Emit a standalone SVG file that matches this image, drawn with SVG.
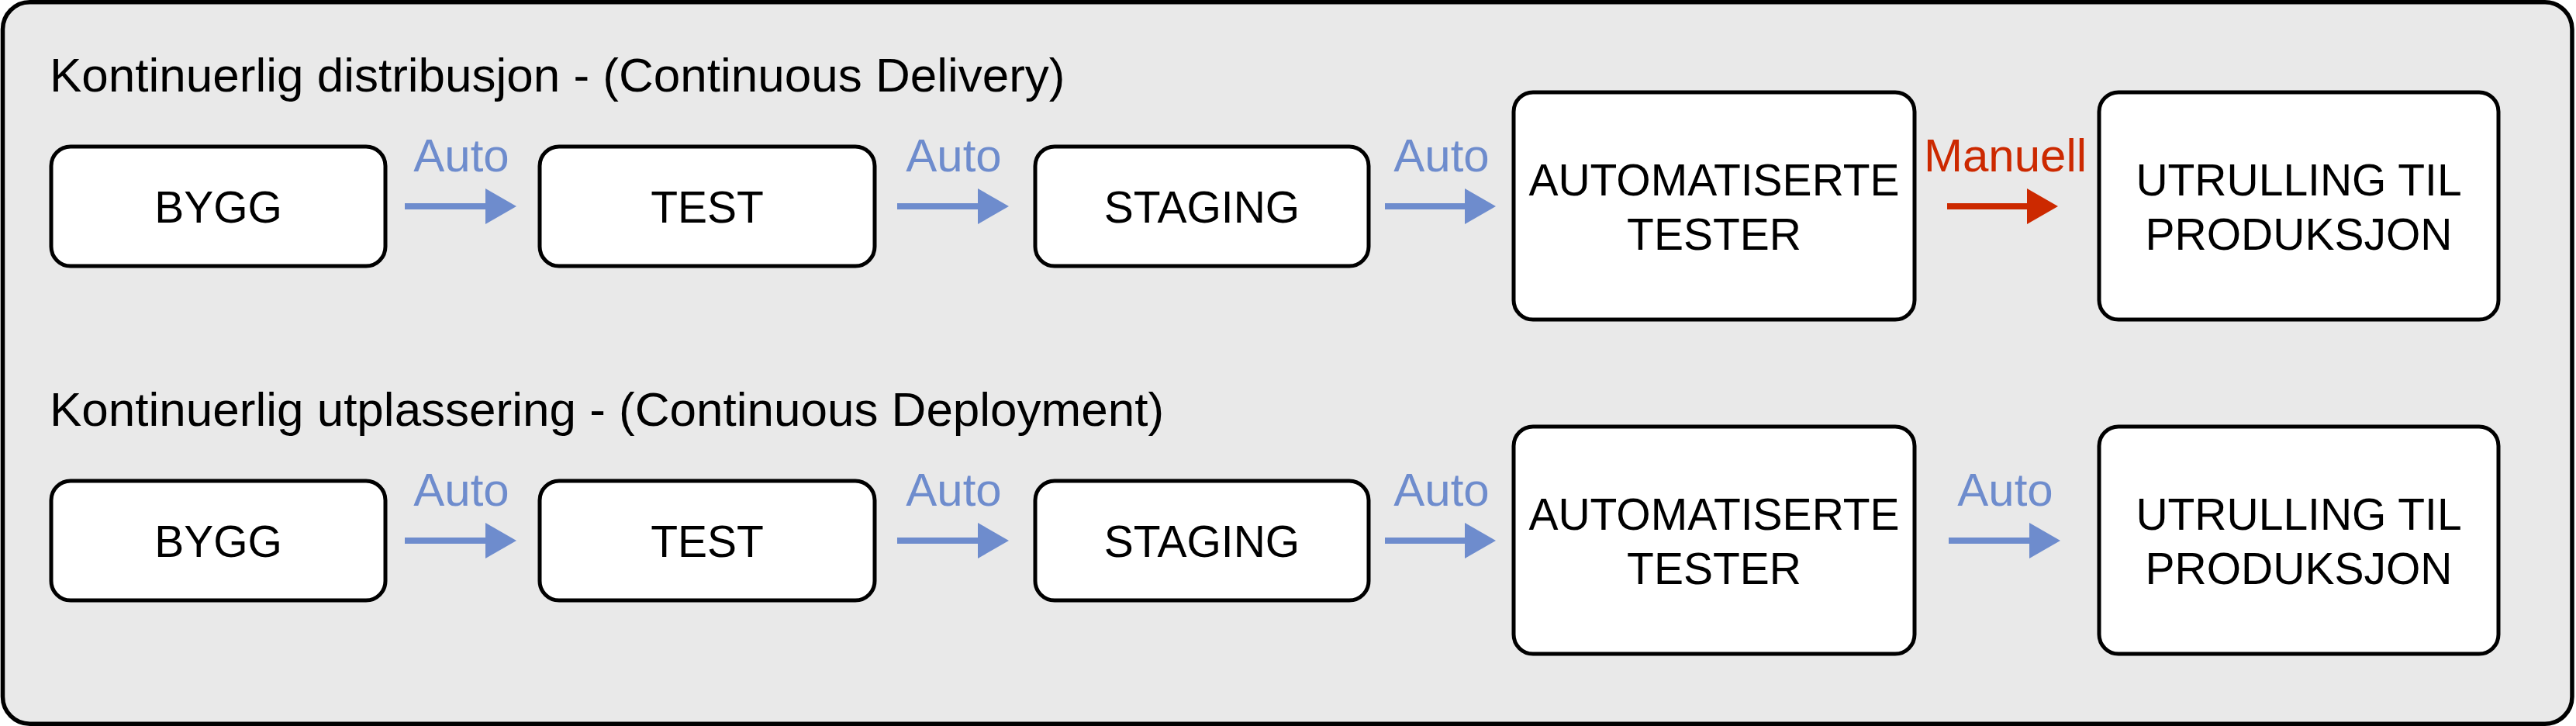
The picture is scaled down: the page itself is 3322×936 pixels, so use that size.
<svg xmlns="http://www.w3.org/2000/svg" width="3322" height="936" viewBox="0 0 3322 936">
  <style>
    .frame { fill: #e9e9e9; stroke: #000; stroke-width: 5.5; }
    .box { fill: #fff; stroke: #000; stroke-width: 5; }
    .title { font-family: "Liberation Sans", Arial, sans-serif; font-size: 62px; fill: #000; }
    .lbl { font-family: "Liberation Sans", Arial, sans-serif; font-size: 57px; fill: #000; text-anchor: middle; }
    .auto { font-family: "Liberation Sans", Arial, sans-serif; font-size: 60px; fill: #6e8ccd; text-anchor: middle; }
    .man { font-family: "Liberation Sans", Arial, sans-serif; font-size: 60px; fill: #cc2900; text-anchor: middle; }
    .ab { stroke: #6e8ccd; stroke-width: 8; fill: none; }
    .ar { stroke: #cc2900; stroke-width: 8; fill: none; }
  </style>
  <defs>
    <marker id="hb" markerUnits="userSpaceOnUse" markerWidth="40" markerHeight="46" refX="0" refY="23" orient="auto" overflow="visible">
      <path d="M0,0 L40,23 L0,46 Z" fill="#6e8ccd"/>
    </marker>
    <marker id="hr" markerUnits="userSpaceOnUse" markerWidth="40" markerHeight="46" refX="0" refY="23" orient="auto" overflow="visible">
      <path d="M0,0 L40,23 L0,46 Z" fill="#cc2900"/>
    </marker>
  </defs>

  <g id="frame">
    <rect class="frame" x="3.5" y="2.75" width="3313.5" height="930.5" rx="35" ry="35"/>
  </g>

  <g id="title-delivery">
    <text class="title" x="64" y="118">Kontinuerlig distribusjon - (Continuous Delivery)</text>
  </g>
  <g id="title-deployment">
    <text class="title" x="64" y="549">Kontinuerlig utplassering - (Continuous Deployment)</text>
  </g>

  <!-- Row 1 -->
  <g id="r1-bygg">
    <rect class="box" x="66" y="189" width="431" height="154" rx="25"/>
    <text class="lbl" x="281.5" y="287">BYGG</text>
  </g>
  <g id="r1-test">
    <rect class="box" x="696" y="189" width="432" height="154" rx="25"/>
    <text class="lbl" x="912" y="287">TEST</text>
  </g>
  <g id="r1-staging">
    <rect class="box" x="1335" y="189" width="430" height="154" rx="25"/>
    <text class="lbl" x="1550" y="287">STAGING</text>
  </g>
  <g id="r1-autotest">
    <rect class="box" x="1952" y="119" width="517" height="293" rx="25"/>
    <text class="lbl" x="2210.5" y="252">AUTOMATISERTE</text>
    <text class="lbl" x="2210.5" y="322">TESTER</text>
  </g>
  <g id="r1-prod">
    <rect class="box" x="2707" y="119" width="515" height="293" rx="25"/>
    <text class="lbl" x="2964.5" y="252">UTRULLING TIL</text>
    <text class="lbl" x="2964.5" y="322">PRODUKSJON</text>
  </g>

  <!-- Row 2 -->
  <g id="r2-bygg">
    <rect class="box" x="66" y="620" width="431" height="154" rx="25"/>
    <text class="lbl" x="281.5" y="718">BYGG</text>
  </g>
  <g id="r2-test">
    <rect class="box" x="696" y="620" width="432" height="154" rx="25"/>
    <text class="lbl" x="912" y="718">TEST</text>
  </g>
  <g id="r2-staging">
    <rect class="box" x="1335" y="620" width="430" height="154" rx="25"/>
    <text class="lbl" x="1550" y="718">STAGING</text>
  </g>
  <g id="r2-autotest">
    <rect class="box" x="1952" y="550" width="517" height="293" rx="25"/>
    <text class="lbl" x="2210.5" y="683">AUTOMATISERTE</text>
    <text class="lbl" x="2210.5" y="753">TESTER</text>
  </g>
  <g id="r2-prod">
    <rect class="box" x="2707" y="550" width="515" height="293" rx="25"/>
    <text class="lbl" x="2964.5" y="683">UTRULLING TIL</text>
    <text class="lbl" x="2964.5" y="753">PRODUKSJON</text>
  </g>

  <g id="connectors">
    <!-- Row 1 -->
    <line class="ab" x1="522" y1="266" x2="626" y2="266" marker-end="url(#hb)"/>
    <text class="auto" x="595" y="221">Auto</text>
    <line class="ab" x1="1157" y1="266" x2="1261" y2="266" marker-end="url(#hb)"/>
    <text class="auto" x="1230" y="221">Auto</text>
    <line class="ab" x1="1786" y1="266" x2="1889" y2="266" marker-end="url(#hb)"/>
    <text class="auto" x="1859" y="221">Auto</text>
    <line class="ar" x1="2511" y1="266" x2="2614" y2="266" marker-end="url(#hr)"/>
    <text class="man" x="2586" y="221">Manuell</text>
    <!-- Row 2 -->
    <line class="ab" x1="522" y1="697" x2="626" y2="697" marker-end="url(#hb)"/>
    <text class="auto" x="595" y="652">Auto</text>
    <line class="ab" x1="1157" y1="697" x2="1261" y2="697" marker-end="url(#hb)"/>
    <text class="auto" x="1230" y="652">Auto</text>
    <line class="ab" x1="1786" y1="697" x2="1889" y2="697" marker-end="url(#hb)"/>
    <text class="auto" x="1859" y="652">Auto</text>
    <line class="ab" x1="2513" y1="697" x2="2617" y2="697" marker-end="url(#hb)"/>
    <text class="auto" x="2586" y="652">Auto</text>
  </g>
</svg>
